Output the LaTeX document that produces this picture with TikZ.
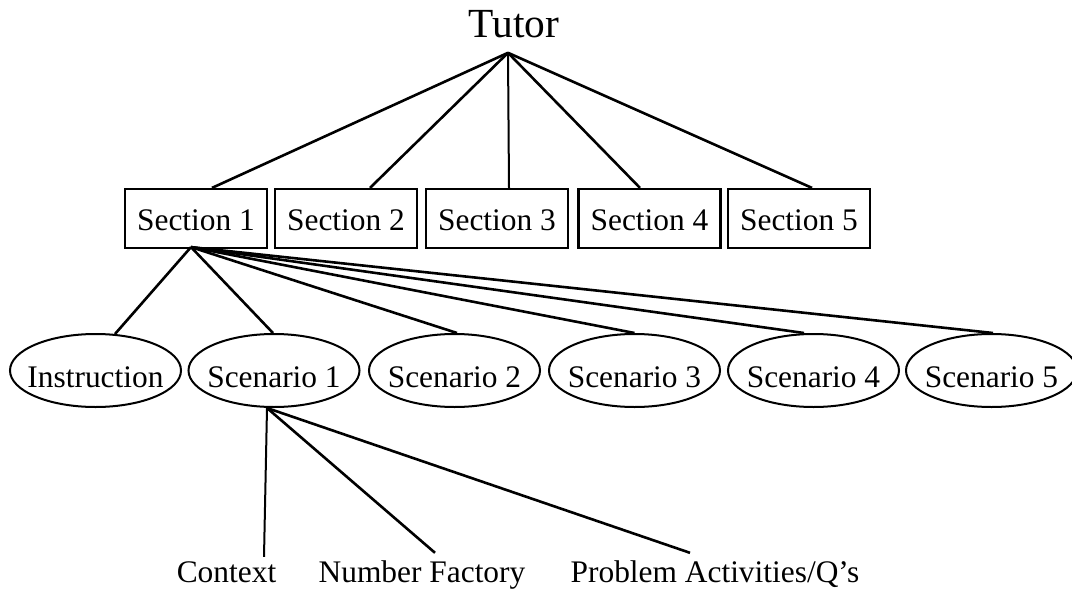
\documentclass[tikz,border=0pt]{standalone}
\usepackage{fontspec}
\setmainfont{Liberation Serif}
\usetikzlibrary{shapes.geometric}
\newcommand\ovtext[1]{\makebox[40pt]{#1}}
\tikzset{
 secbox/.style={draw,line width=1.1pt,minimum width=71pt,minimum height=29.5pt,inner sep=0pt,
   text height=11.5pt,text depth=0pt,font=\fontsize{15.7}{18}\selectfont},
 scen/.style={draw,ellipse,line width=1pt,minimum width=85.5pt,minimum height=36.5pt,inner sep=0pt,
   text height=17pt,text depth=0pt,font=\fontsize{15.7}{18}\selectfont},
 lbl/.style={anchor=base,inner sep=0pt,font=\fontsize{15.7}{18}\selectfont},
 link/.style={line width=1.3pt}
}
\begin{document}
\begin{tikzpicture}[x=0.5pt,y=-0.5pt]
 \useasboundingbox (0,0) rectangle (1072,595);
 \node[lbl,font=\fontsize{20.7}{24}\selectfont] (tutor) at (514,37) {Tutor};
 % sections
 \node[secbox] (s1) at (196,218.5) {Section 1};
 \node[secbox] (s2) at (346,218.5) {Section 2};
 \node[secbox] (s3) at (497,218.5) {Section 3};
 \node[secbox] (s4) at (649.5,218.5) {Section 4};
 \node[secbox] (s5) at (799,218.5) {Section 5};
 % scenarios
 \node[scen] (ins) at (95.5,370.5) {\ovtext{Instruction}};
 \node[scen] (sc1) at (274,370.5) {\ovtext{Scenario 1}};
 \node[scen] (sc2) at (454.5,370.5) {\ovtext{Scenario 2}};
 \node[scen] (sc3) at (634.5,370.5) {\ovtext{Scenario 3}};
 \node[scen] (sc4) at (813.5,370.5) {\ovtext{Scenario 4}};
 \node[scen] (sc5) at (991.5,370.5) {\ovtext{Scenario 5}};
 % parts of scenario 1
 \node[lbl] (ctx) at (226.5,582) {Context};
 \node[lbl] (nf) at (422,582) {Number Factory};
 \node[lbl] (pa) at (715,582) {Problem Activities/Q’s};
 \draw[link] ([xshift=-3pt,yshift=-7.5pt]tutor.south) -- ([xshift=8pt]s1.north);
 \draw[link] ([xshift=-3pt,yshift=-7.5pt]tutor.south) -- ([xshift=12pt]s2.north);
 \draw[link,line width=1pt] ([xshift=-3pt,yshift=-7.5pt]tutor.south) -- ([xshift=6pt]s3.north);
 \draw[link] ([xshift=-3pt,yshift=-7.5pt]tutor.south) -- ([xshift=-4.75pt]s4.north);
 \draw[link] ([xshift=-3pt,yshift=-7.5pt]tutor.south) -- ([xshift=6.5pt]s5.north);
 \draw[link] ([xshift=-2.5pt,yshift=1pt]s1.south) -- ([xshift=9.75pt,yshift=-0.5pt]ins.north);
 \draw[link] ([xshift=-2.5pt,yshift=1pt]s1.south) -- ([xshift=-0.5pt]sc1.north);
 \draw[link] ([xshift=-2.5pt,yshift=1pt]s1.south) -- ([xshift=1.25pt]sc2.north);
 \draw[link] ([xshift=-2.5pt,yshift=1pt]s1.south) -- (sc3.north);
 \draw[link] ([xshift=-2.5pt,yshift=1pt]s1.south) -- ([xshift=-4.75pt]sc4.north);
 \draw[link] ([xshift=-2.5pt,yshift=1pt]s1.south) -- ([xshift=0.75pt]sc5.north);
 \draw[link,line width=1pt] ([xshift=-3.5pt]sc1.south) -- ([xshift=18.75pt,yshift=2pt]ctx.north);
 \draw[link] ([xshift=-3.5pt]sc1.south) -- ([xshift=6.5pt,yshift=3.5pt]nf.north);
 \draw[link] ([xshift=-3.5pt]sc1.south) -- ([xshift=-12.5pt,yshift=3.5pt]pa.north);
\end{tikzpicture}
\end{document}
